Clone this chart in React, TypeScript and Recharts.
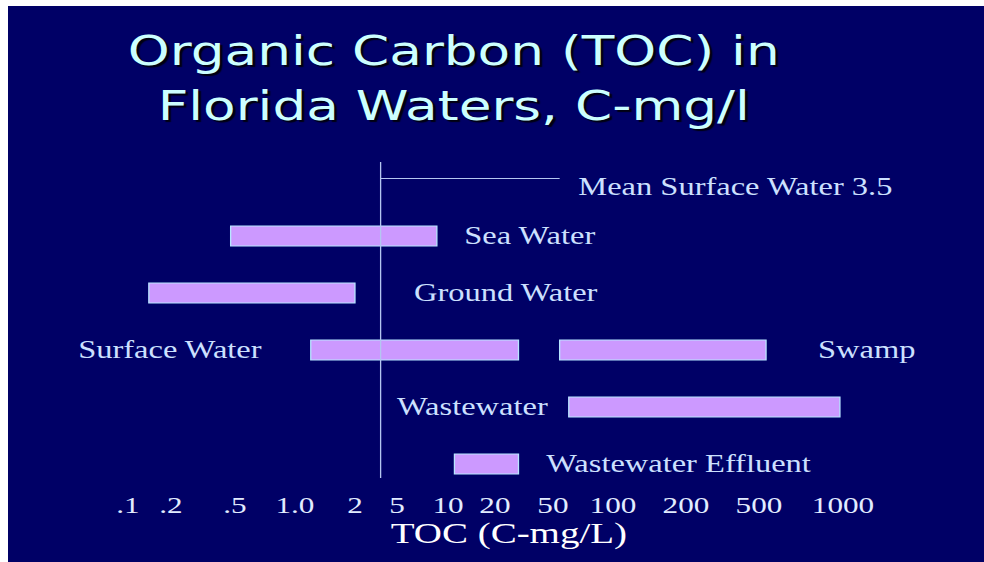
import { BarChart, Bar, XAxis, YAxis, ReferenceLine, ReferenceDot } from "recharts";

// Tick labels of the slide's TOC axis (mg/L) and where each one sits along it.
const TICK_VALUES = [0.1, 0.2, 0.5, 1, 2, 5, 10, 20, 50, 100, 200, 500, 1000];
const TICK_LABELS = [".1", ".2", ".5", "1.0", "2", "5", "10", "20", "50", "100", "200", "500", "1000"];
const TICK_SPOTS = [0, 43, 107, 167, 227, 269, 320, 367, 425, 485, 558, 631, 715];

// rows, top to bottom
const ROWS = ["Mean Surface Water 3.5", "Sea Water", "Ground Water", "Surface Water", "Wastewater", "Wastewater Effluent"];
// TOC ranges, C-mg/L
const LOW = [null, 0.47, 0.14, 1.2, 60, 11];
const HIGH = [null, 8.6, 2.0, 29, 975, 29];
// Swamp shares the Surface Water row
const SWAMP_LOW = [null, null, null, 54, null, null];
const SWAMP_HIGH = [null, null, null, 530, null, null];

const MEAN_TOC = 3.5;
const MEAN_LEADER_END = 54;

// text annotations: which row, at what TOC value, and on which side of it
const NOTE_TEXT = ["Mean Surface Water 3.5", "Sea Water", "Ground Water", "Surface Water", "Swamp", "Wastewater", "Wastewater Effluent"];
const NOTE_ROW = [0, 1, 2, 3, 3, 4, 5];
const NOTE_AT = [67, 12.7, 6.3, 0.68, 814, 46, 45];
const NOTE_SIDE = ["right", "right", "right", "left", "right", "left", "right"];

const BG = "#000066";
const BAR_FILL = "#cc99ff";
const BAR_EDGE = "#b8e6ff";
const LINE = "#b4c6f0";
const NOTE_COLOR = "#cce0ff";
const SERIF = "'Liberation Serif', 'Times New Roman', serif";

// slide is a 4:3 page shown stretched sideways
const OUT_W = 976;
const IN_W = 751;
const H = 556;

// TOC value -> spot on the hand-spaced axis (log interpolation between labels)
function toSpot(v: number): number {
  let i = 0;
  while (i < TICK_VALUES.length - 2 && v > TICK_VALUES[i + 1]) i++;
  const a = TICK_VALUES[i];
  const b = TICK_VALUES[i + 1];
  const f = Math.log(v / a) / Math.log(b / a);
  return TICK_SPOTS[i] + f * (TICK_SPOTS[i + 1] - TICK_SPOTS[i]);
}

const data = ROWS.map((name, i) => {
  const row: Record<string, unknown> = { name };
  if (LOW[i] != null) row.range = [toSpot(LOW[i] as number), toSpot(HIGH[i] as number)];
  if (SWAMP_LOW[i] != null) row.swamp = [toSpot(SWAMP_LOW[i] as number), toSpot(SWAMP_HIGH[i] as number)];
  return row;
});

const MeanLine = (props: any) => {
  const { x1, y1, x2, y2 } = props;
  const top = Math.min(y1, y2);
  const bottom = Math.max(y1, y2);
  // the slide's line stops a little short of the plot edges
  return <line x1={x1} y1={top + 12} x2={x2} y2={bottom - 14} stroke={LINE} strokeWidth={1} />;
};

const AxisTitle = (props: any) => {
  const vb = props.viewBox || {};
  return (
    <text
      x={vb.x + vb.width / 2 + 18}
      y={vb.y + 51}
      textAnchor="middle"
      fill="#ffffff"
      fontSize={30}
      fontFamily={SERIF}
    >
      TOC (C-mg/L)
    </text>
  );
};

export default function App() {
  return (
    <div
      style={{
        position: "fixed",
        left: 8,
        top: 6,
        width: OUT_W,
        height: H,
        background: BG,
        overflow: "hidden",
      }}
    >
      <div
        style={{
          position: "relative",
          width: IN_W,
          height: H,
          transform: `scaleX(${OUT_W / IN_W})`,
          transformOrigin: "0 0",
        }}
      >
        <div
          style={{
            position: "absolute",
            left: 0,
            top: 18,
            width: 686,
            textAlign: "center",
            fontFamily: "'DejaVu Sans', Verdana, sans-serif",
            fontSize: 41,
            lineHeight: "55px",
            color: "#ccffff",
            textShadow: "2px 2px 1px #000011",
          }}
        >
          <div>Organic Carbon (TOC) in</div>
          <div>Florida Waters, C-mg/l</div>
        </div>
        <BarChart
          width={IN_W}
          height={H}
          data={data}
          layout="vertical"
          barSize={20}
          barGap={-20}
          margin={{ top: 144, right: 108.5, bottom: 40, left: 92.3 }}
        >
          <XAxis
            type="number"
            domain={[0, 715]}
            ticks={TICK_SPOTS}
            interval={0}
            tickFormatter={(v) => TICK_LABELS[TICK_SPOTS.indexOf(v)]}
            axisLine={false}
            tickLine={false}
            tickSize={0}
            tickMargin={4}
            height={30}
            tick={{ fill: "#e2ecff", fontSize: 24, fontFamily: SERIF }}
            label={{ content: AxisTitle }}
          />
          <YAxis type="category" dataKey="name" hide />
          <ReferenceLine x={toSpot(MEAN_TOC)} shape={MeanLine} />
          <ReferenceLine
            segment={[
              { x: toSpot(MEAN_TOC), y: ROWS[0] },
              { x: toSpot(MEAN_LEADER_END), y: ROWS[0] },
            ]}
            stroke={LINE}
            strokeWidth={1}
          />
          <Bar dataKey="range" fill={BAR_FILL} stroke={BAR_EDGE} strokeWidth={1} isAnimationActive={false} />
          <Bar dataKey="swamp" fill={BAR_FILL} stroke={BAR_EDGE} strokeWidth={1} isAnimationActive={false} />
          {NOTE_TEXT.map((t, i) => (
            <ReferenceDot
              key={t}
              x={toSpot(NOTE_AT[i])}
              y={ROWS[NOTE_ROW[i]]}
              r={0}
              fill="none"
              stroke="none"
              label={{
                value: t,
                position: NOTE_SIDE[i] as any,
                offset: 0,
                // the mean note hangs just under its leader line
                dy: i === 0 ? 8 : 0,
                fill: NOTE_COLOR,
                fontSize: 25,
                fontFamily: SERIF,
              }}
            />
          ))}
        </BarChart>
      </div>
    </div>
  );
}
